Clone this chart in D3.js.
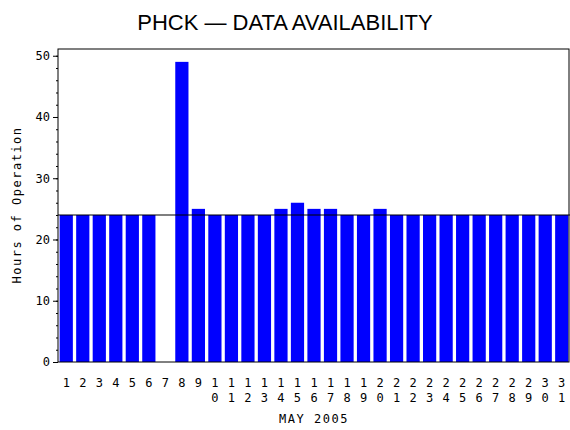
<!DOCTYPE html>
<html><head><meta charset="utf-8">
<script src="https://cdn.jsdelivr.net/npm/d3@7"></script>
<style>body{margin:0;background:#fff}</style>
</head><body>
<svg id="chart" width="570" height="430"></svg>
<script>
// data
const days = d3.range(1, 32);
const hours = [24,24,24,24,24,24,0,49,25,24,24,24,24,25,26,25,25,24,24,25,24,24,24,24,24,24,24,24,24,24,24];
const yTicks = [0,10,20,30,40,50];
const refLine = 24;

const svg = d3.select('#chart');
const mLeft = 58, mRight = 570, mTop = 49, mBottom = 362;

const x = d3.scaleBand().domain(days).range([mLeft, mRight]).paddingInner(0.2).paddingOuter(0.1);
const y = d3.scaleLinear().domain([0, 51.1]).range([mBottom, mTop]);

svg.append('text').attr('x', 285).attr('y', 30).attr('text-anchor', 'middle')
  .style('font-family', 'Liberation Sans, sans-serif').style('font-size', '22px')
  .text('PHCK  \u2014  DATA AVAILABILITY');

svg.selectAll('rect.bar').data(hours).enter().append('rect')
  .attr('class', 'bar')
  .attr('x', (d, i) => x(days[i]))
  .attr('width', x.bandwidth())
  .attr('y', d => y(d))
  .attr('height', d => mBottom - y(d))
  .attr('fill', '#0000ff');

// frame
svg.append('rect').attr('x', mLeft).attr('y', mTop).attr('width', mRight - mLeft - 1).attr('height', mBottom - mTop)
  .attr('fill', 'none').attr('stroke', '#000');

svg.append('line').attr('x1', mLeft).attr('x2', mRight).attr('y1', y(refLine)).attr('y2', y(refLine))
  .attr('stroke', '#000').attr('stroke-width', 1.2);

// y axis
const yAxis = svg.append('g').attr('transform', `translate(${mLeft},0)`)
  .call(d3.axisLeft(y).tickValues(yTicks).tickSize(5).tickFormat(d3.format('d')));
yAxis.select('.domain').remove();
yAxis.selectAll('text').style('font-family', 'DejaVu Sans Mono, monospace').style('font-size', '12px');
svg.append('g').attr('transform', `translate(${mLeft},0)`)
  .call(d3.axisLeft(y).tickValues(d3.range(0, 51, 2)).tickSize(2).tickFormat(''))
  .select('.domain').remove();

svg.append('text').attr('transform', 'translate(21,205) rotate(-90)').attr('text-anchor', 'middle')
  .style('font-family', 'DejaVu Sans Mono, monospace').style('font-size', '12px')
  .attr('letter-spacing', '1.5px').text('Hours of Operation');

// x labels, stacked digits
days.forEach(d => {
  const s = String(d);
  const cx = x(d) + x.bandwidth() / 2;
  s.split('').forEach((c, k) => {
    svg.append('text').attr('x', cx).attr('y', 387 + k * 15).attr('text-anchor', 'middle')
      .style('font-family', 'DejaVu Sans Mono, monospace').style('font-size', '12px').text(c);
  });
});

svg.append('text').attr('x', 314).attr('y', 423).attr('text-anchor', 'middle')
  .style('font-family', 'DejaVu Sans Mono, monospace').style('font-size', '12px')
  .attr('letter-spacing', '1.5px').text('MAY 2005');
</script>
</body></html>
